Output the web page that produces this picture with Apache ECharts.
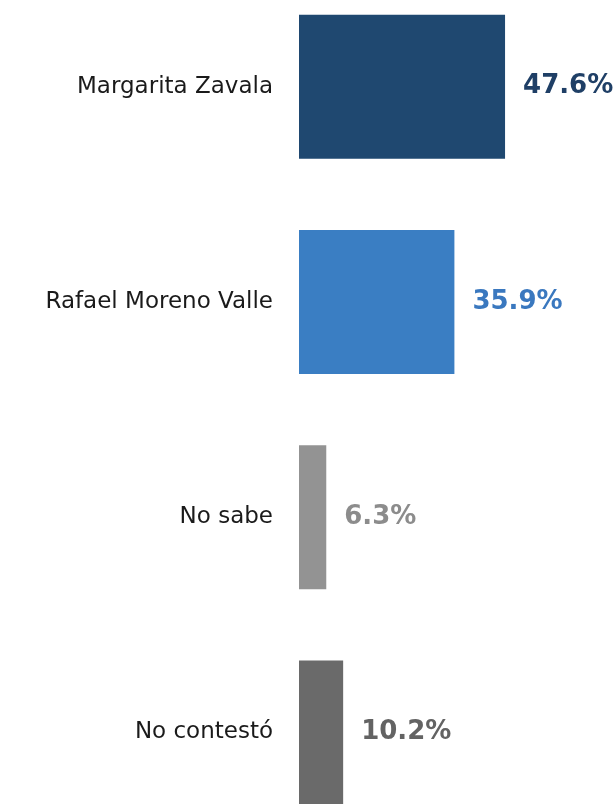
<!DOCTYPE html>
<html>
<head>
<meta charset="utf-8">
<script src="https://cdn.jsdelivr.net/npm/echarts@6/dist/echarts.min.js"></script>
<style>
  html, body { margin: 0; padding: 0; background: #fff; }
  #chart { width: 616px; height: 804px; }
</style>
</head>
<body>
<div id="chart"></div>
<script>
const categories = ['Margarita Zavala', 'Rafael Moreno Valle', 'No sabe', 'No contestó']
const values = [47.6, 35.9, 6.3, 10.2]
const barColors = ['#1F4870', '#3A7EC3', '#939393', '#6A6A6A']
const labelColors = ['#1F3F66', '#3A78BF', '#8C8C8C', '#636363']

const chart = echarts.init(document.getElementById('chart'))

const data = values.map(function (v, i) {
  return {
    value: v,
    itemStyle: { color: barColors[i] },
    label: { color: labelColors[i] }
  }
})

chart.setOption({
  animation: false,
  grid: {
    left: 299,
    width: 316,
    top: -21,
    height: 861,
    outerBoundsMode: 'none',
    containLabel: false
  },
  xAxis: {
    type: 'value',
    min: 0,
    max: 73,
    show: false
  },
  yAxis: {
    type: 'category',
    data: categories,
    inverse: true,
    axisLine: { show: false },
    axisTick: { show: false },
    axisLabel: {
      margin: 26,
      color: '#1a1a1a',
      fontSize: 23,
      fontFamily: 'DejaVu Sans'
    }
  },
  series: [{
    type: 'bar',
    data: data,
    barWidth: 144,
    label: {
      show: true,
      position: 'right',
      distance: 18,
      fontSize: 26,
      fontWeight: 'bold',
      fontFamily: 'DejaVu Sans',
      formatter: function (p) {
        return p.value.toFixed(1) + '%'
      }
    }
  }]
})
</script>
</body>
</html>
